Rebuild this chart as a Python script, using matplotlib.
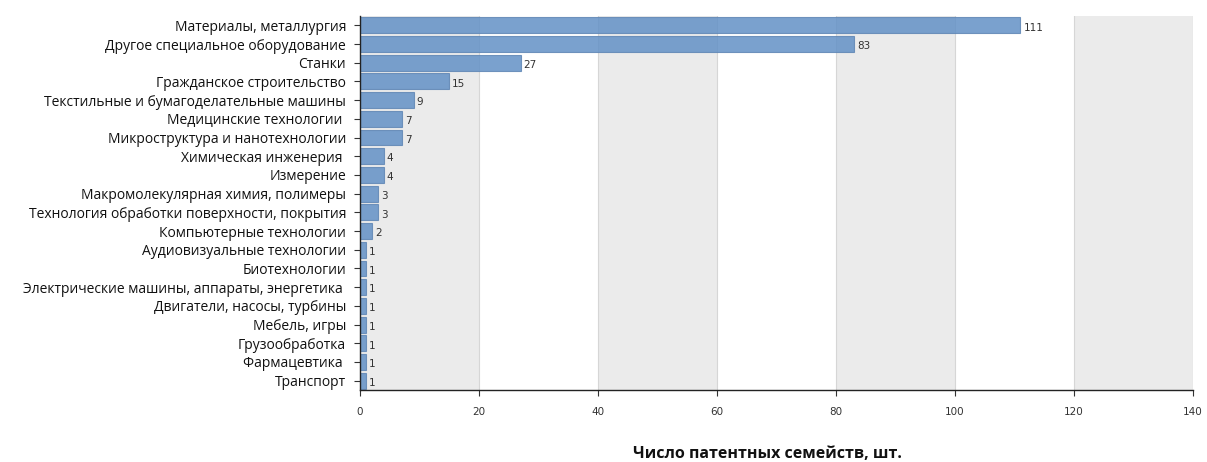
import matplotlib
matplotlib.use("Agg")
import matplotlib.pyplot as plt
from matplotlib.transforms import ScaledTranslation

categories = [
    "Материалы, металлургия",
    "Другое специальное оборудование",
    "Станки",
    "Гражданское строительство",
    "Текстильные и бумагоделательные машины",
    "Медицинские технологии ",
    "Микроструктура и нанотехнологии",
    "Химическая инженерия ",
    "Измерение",
    "Макромолекулярная химия, полимеры",
    "Технология обработки поверхности, покрытия",
    "Компьютерные технологии",
    "Аудиовизуальные технологии",
    "Биотехнологии",
    "Электрические машины, аппараты, энергетика ",
    "Двигатели, насосы, турбины",
    "Мебель, игры",
    "Грузообработка",
    "Фармацевтика ",
    "Транспорт",
]
values = [111, 83, 27, 15, 9, 7, 7, 4, 4, 3, 3, 2, 1, 1, 1, 1, 1, 1, 1, 1]
x_ticks = [0, 20, 40, 60, 80, 100, 120, 140]
x_label = "Число патентных семейств, шт."

fig = plt.figure(figsize=(12.07, 4.62), dpi=100)
ax = fig.add_axes([0.2983, 0.1558, 0.6901, 0.8096])

# alternating vertical bands
for i in range(len(x_ticks) - 1):
    if i % 2 == 0:
        ax.axvspan(x_ticks[i], x_ticks[i + 1], color="#ebebeb", zorder=0, lw=0)
for t in x_ticks[1:]:
    ax.axvline(t, color="#d6d6d6", lw=0.8, zorder=0.5)

ypos = list(range(len(categories)))
ax.barh(ypos, values, height=0.85, color="#6391c6", alpha=0.85,
        edgecolor="#5f86b5", linewidth=0.8, zorder=2)

for y, v in zip(ypos, values):
    ax.text(v + 0.5, y + 0.12, str(v), va="center", ha="left",
            fontsize=7.5, color="#333333", zorder=3)

ax.set_xlim(0, 140)
ax.set_ylim(len(categories) - 0.5, -0.5)
ax.set_yticks(ypos)
ax.set_yticklabels(categories, fontsize=10, family="Open Sans", color="#111111")
# lift the category labels slightly above their tick marks
lift = ScaledTranslation(0, 3 / 100, fig.dpi_scale_trans)
for lbl in ax.get_yticklabels():
    lbl.set_transform(lbl.get_transform() + lift)
ax.set_xticks(x_ticks)
ax.set_xticklabels([str(t) for t in x_ticks], fontsize=7.5, color="#333333")

ax.tick_params(axis="y", length=4, width=0.8, pad=6, color="#333333")
ax.tick_params(axis="x", length=4, width=0.8, pad=8, color="#333333")

for s in ("top", "right"):
    ax.spines[s].set_visible(False)
ax.spines["left"].set_color("#222222")
ax.spines["bottom"].set_color("#222222")
ax.spines["left"].set_linewidth(1.0)
ax.spines["bottom"].set_linewidth(1.0)

fig.text(0.636, 0.0, x_label, ha="center", va="bottom",
         fontsize=11.5, fontweight="bold", family="Open Sans", color="#111111")

fig.savefig("out.png", dpi=100, facecolor="white")
